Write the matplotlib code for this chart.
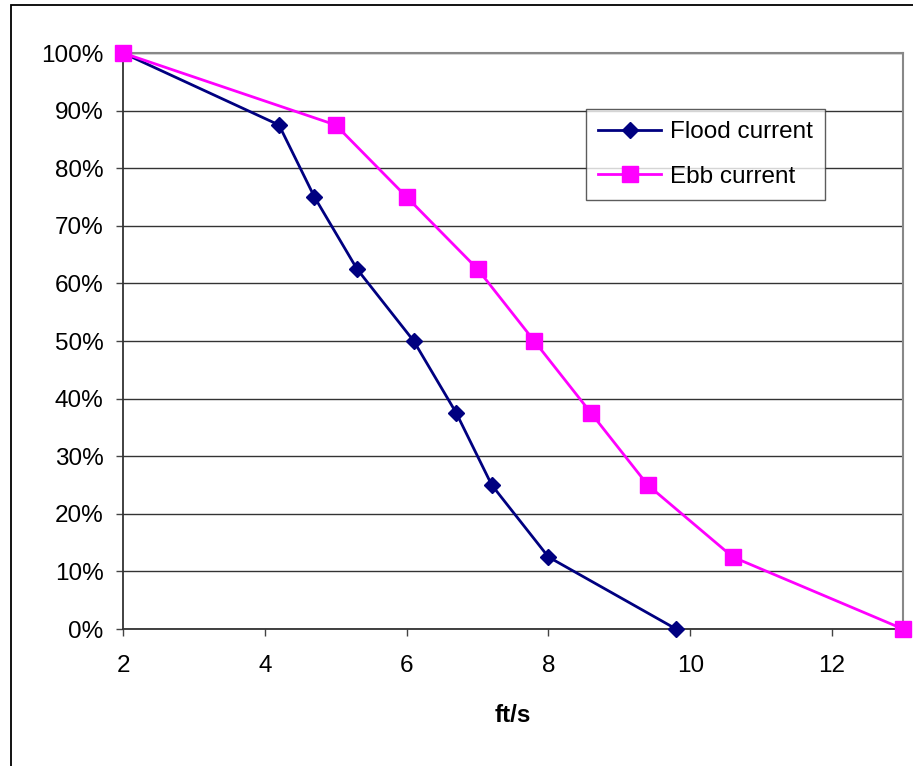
import matplotlib.pyplot as plt
from matplotlib.patches import Rectangle
from matplotlib.ticker import FuncFormatter

# current speed (ft/s) against percent of time exceeded
pct = [100, 87.5, 75, 62.5, 50, 37.5, 25, 12.5, 0]
flood_speed = [2.0, 4.2, 4.7, 5.3, 6.1, 6.7, 7.2, 8.0, 9.8]
ebb_speed = [2.0, 5.0, 6.0, 7.0, 7.8, 8.6, 9.4, 10.6, 13.0]

plt.rcParams['font.family'] = ['Liberation Sans', 'DejaVu Sans']
FS = 17.5

fig = plt.figure(figsize=(9.13, 7.66), dpi=100)
W, H = 913, 766
ax = fig.add_axes([123 / W, 1 - 629 / H, (903 - 123) / W, (629 - 53) / H])

# outer chart frame
fig.patches.append(Rectangle((11 / W, -0.1), 1.2, 1 - 5 / H + 0.1, transform=fig.transFigure,
                             fill=False, edgecolor='black', linewidth=1.3))

ax.plot(flood_speed, pct, color='#000080', linewidth=2, marker='D', markersize=8,
        label='Flood current', clip_on=False, zorder=3)
ax.plot(ebb_speed, pct, color='#ff00ff', linewidth=2, marker='s', markersize=11.5,
        label='Ebb current', clip_on=False, zorder=3)

ax.set_xlim(2, 13)
ax.set_ylim(0, 100)
ax.set_xticks([2, 4, 6, 8, 10, 12])
ax.set_yticks(range(0, 101, 10))
ax.yaxis.set_major_formatter(FuncFormatter(lambda v, p: '{:.0f}%'.format(v)))
ax.grid(axis='y', color='#333333', linewidth=1)
ax.set_axisbelow(True)
ax.tick_params(labelsize=FS, length=5, width=1, color='#444444', direction='out', pad=9)
ax.tick_params(axis='x', pad=14)

for side in ['top', 'right']:
    ax.spines[side].set_color('#888888')
    ax.spines[side].set_linewidth(1.5)
for side in ['left', 'bottom']:
    ax.spines[side].set_color('#333333')
    ax.spines[side].set_linewidth(1.3)

ax.set_xlabel('ft/s', fontsize=FS, fontweight='bold', labelpad=19)

leg = ax.legend(loc='upper left', bbox_to_anchor=((586 - 123) / 780, 1 - (109 - 53) / 576),
                fontsize=FS, frameon=True, fancybox=False, borderpad=0.5,
                handlelength=2.6, handletextpad=0.35, labelspacing=0.93, borderaxespad=0)
leg.get_frame().set_edgecolor('#333333')
leg.get_frame().set_linewidth(1)

fig.savefig('out.png', dpi=100)
